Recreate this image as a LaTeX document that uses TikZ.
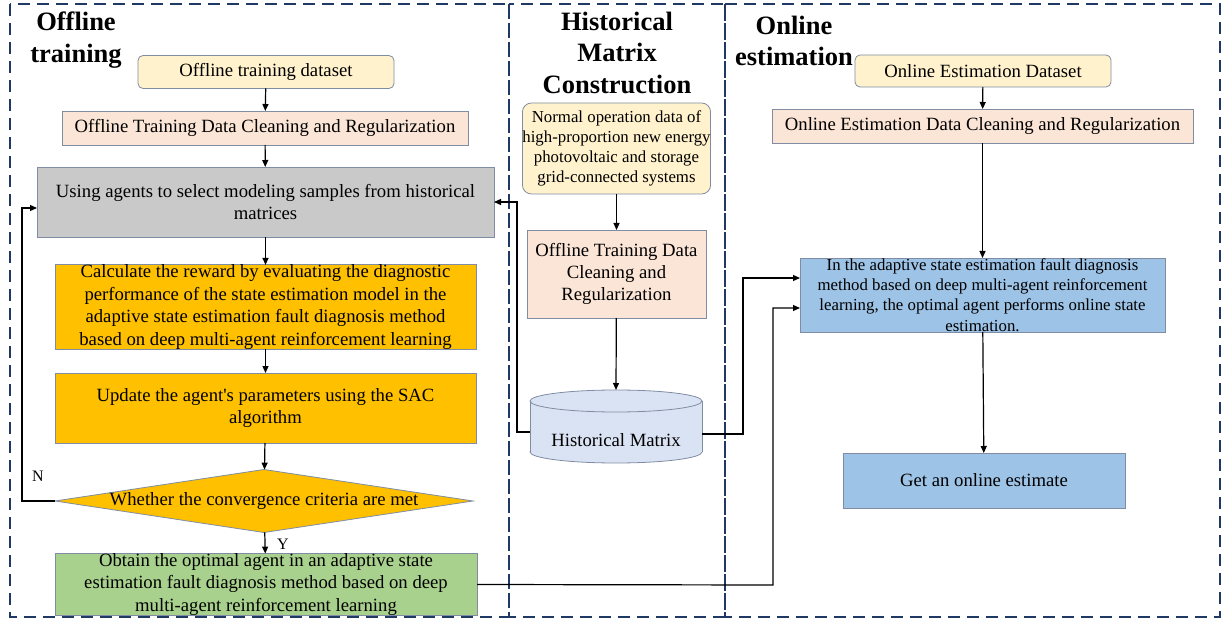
\documentclass[tikz,border=0pt]{standalone}
\usepackage{fontspec}
\setmainfont{Liberation Serif}[Ligatures=TeXOff]
\usetikzlibrary{arrows.meta,calc,shapes.geometric}
\definecolor{regionc}{HTML}{1F3864}
\definecolor{edgec}{HTML}{7F8CA3}
\definecolor{yellowf}{HTML}{FFF2CC}
\definecolor{peachf}{HTML}{FBE5D6}
\definecolor{grayf}{HTML}{C9C9C9}
\definecolor{orangef}{HTML}{FFC000}
\definecolor{greenf}{HTML}{A9D18E}
\definecolor{bluef}{HTML}{9DC3E6}
\definecolor{cylf}{HTML}{DAE3F3}
\begin{document}
\begin{tikzpicture}[x=1pt,y=-1pt,
  every node/.style={inner sep=0pt, outer sep=0pt},
  box/.style={draw=edgec, line width=0.8pt, align=center, font=\fontsize{18.7}{22.4}\selectfont},
  smallbox/.style={box, font=\fontsize{16.8}{20.2}\selectfont},
  title/.style={font=\fontsize{26.5}{31.5}\selectfont\bfseries, align=center},
  region/.style={draw=regionc, line width=2.2pt, dash pattern=on 12pt off 7pt},
  arr/.style={draw=black, line width=1.2pt, -{Triangle[length=7pt,width=6pt]}},
  lbl/.style={font=\fontsize{16}{18}\selectfont}
]
\useasboundingbox (0,0) rectangle (1223,620);
% region frames
\draw[region] (10,4) rectangle (509,617);
\draw[region] (509,4) rectangle (725,617);
\draw[region] (725,4) rectangle (1220,617);
% titles
\node[title] (tA) at (76,40) {Offline\\training};
\node[title] (tB) at (617,52.5) {Historical\\Matrix\\Construction};
\node[title] (tC) at (794,41) {Online\\estimation};
% offline column
\node[box, fill=yellowf, rounded corners=5pt, minimum width=256, minimum height=33] (n1) at (266,72) {Offline training dataset};
\node[box, fill=peachf, minimum width=406, minimum height=34] (n2) at (265,128) {Offline Training Data Cleaning and Regularization};
\node[box, fill=grayf, minimum width=457, minimum height=70] (n3) at (265.5,202) {Using agents to select modeling samples from historical\\matrices};
\node[box, fill=orangef, minimum width=421, minimum height=84] (n4) at (265.5,307) {Calculate the reward by evaluating the diagnostic\\performance of the state estimation model in the\\adaptive state estimation fault diagnosis method\\based on deep multi-agent reinforcement learning};
\node[box, fill=orangef, minimum width=421, minimum height=70] (n5) at (265.5,408) {Update the agent's parameters using the SAC\\algorithm};
\node[box, diamond, fill=orangef, aspect=6.7, minimum width=418, minimum height=63] (n6) at (264,501) {\makebox[230pt][c]{Whether the convergence criteria are met}};
\node[box, fill=greenf, minimum width=422, minimum height=55] (n7) at (266,584.5) {Obtain the optimal agent in an adaptive state\\estimation fault diagnosis method based on deep\\multi-agent reinforcement learning};
% historical column
\node[smallbox, fill=yellowf, rounded corners=9pt, minimum width=181, minimum height=91] (n8) at (616.5,148.5) {Normal operation data of\\high-proportion new energy\\photovoltaic and storage\\grid-connected systems};
\node[box, fill=peachf, minimum width=179, minimum height=88] (n9) at (616.5,274) {Offline Training Data\\Cleaning and\\Regularization};
% cylinder
\filldraw[fill=cylf, draw=edgec, line width=0.8pt] (616,452) ellipse [x radius=86, y radius=11];
\fill[cylf] (530,401) rectangle (702,452);
\draw[edgec, line width=0.8pt] (530,401) -- (530,452) (702,401) -- (702,452);
\filldraw[fill=cylf, draw=edgec, line width=0.8pt] (616,401) ellipse [x radius=86, y radius=11];
\node[font=\fontsize{18.7}{22.4}\selectfont, minimum width=172] (hm) at (616,440) {Historical Matrix};
\coordinate (cyltop) at (616,390);
\coordinate (cylL) at (530,432);
\coordinate (cylR) at (702,434);
% online column
\node[box, fill=yellowf, rounded corners=5pt, minimum width=256, minimum height=32] (n11) at (983,71) {Online Estimation Dataset};
\node[box, fill=peachf, minimum width=421, minimum height=34] (n12) at (982.5,126) {Online Estimation Data Cleaning and Regularization};
\node[smallbox, fill=bluef, minimum width=365, minimum height=74] (n13) at (982.5,295) {In the adaptive state estimation fault diagnosis\\method based on deep multi-agent reinforcement\\learning, the optimal agent performs online state\\estimation.};
\node[box, fill=bluef, minimum width=282, minimum height=55] (n14) at (984,480.5) {Get an online estimate};
% connectors
\draw[arr] (n1) -- (n2);
\draw[arr] (n2) -- (n3);
\draw[arr] (n3) -- (n4);
\draw[arr] (n4) -- (n5);
\draw[arr] (n5) -- (n6);
\draw[arr] (n6) -- (n7);
\node[lbl] (lY) at (283,544) {Y};
\draw[arr] (n6.west) -- (22,501) |- ($(n3.west)+(0,6)$);
\node[lbl] (lN) at (38,476) {N};
\draw[arr] (n8) -- (n9);
\draw[arr] (n9) -- (cyltop);
\draw[arr] (cylL) -- (517,432) |- (n3.east);
\draw[arr] (cylR) -- (743,434) |- ($(n13.west)+(0,-17)$);
\draw[arr] (n7.east) -- (773,585) |- ($(n13.west)+(0,13)$);
\draw[arr] (n11) -- (n12);
\draw[arr] (n12) -- (n13);
\draw[arr] (n13) -- (n14);
\end{tikzpicture}
\end{document}
